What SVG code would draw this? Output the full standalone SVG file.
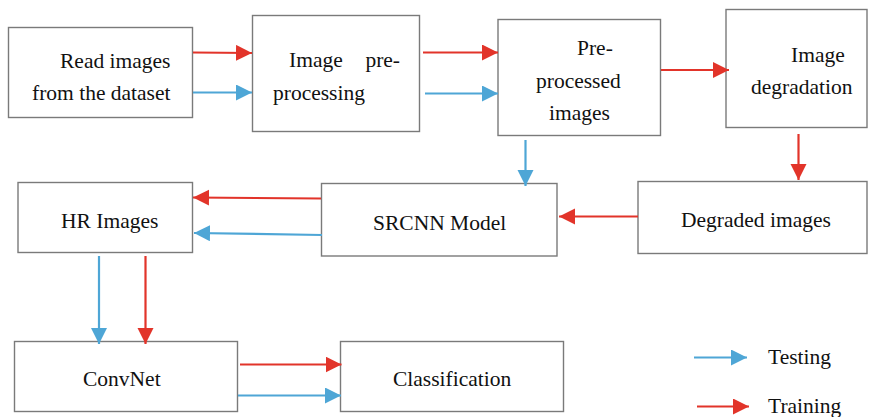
<svg xmlns="http://www.w3.org/2000/svg" width="869" height="417" viewBox="0 0 869 417">
  <style>
    .box { fill: #ffffff; stroke: #7a7a7a; stroke-width: 1.4; }
    .lbl { font-family: "Liberation Serif", "Times New Roman", serif; font-size: 21.5px; fill: #111111; }
    .red { stroke: #e2342a; stroke-width: 2.2; fill: none; marker-end: url(#headRed); }
    .blue { stroke: #4ea6d6; stroke-width: 2.2; fill: none; marker-end: url(#headBlue); }
  </style>
  <defs>
    <marker id="headRed" markerUnits="userSpaceOnUse" markerWidth="17" markerHeight="17" refX="16" refY="8" orient="auto">
      <path d="M0,0 L16,8 L0,16 z" fill="#e2342a"/>
    </marker>
    <marker id="headBlue" markerUnits="userSpaceOnUse" markerWidth="17" markerHeight="17" refX="16" refY="8" orient="auto">
      <path d="M0,0 L16,8 L0,16 z" fill="#4ea6d6"/>
    </marker>
  </defs>
  <rect width="869" height="417" fill="#ffffff"/>

  <g id="read">
    <rect class="box" x="8.5" y="27.5" width="184" height="90"/>
    <text class="lbl" x="60" y="68">Read images</text>
    <text class="lbl" x="32" y="100">from the dataset</text>
  </g>

  <g id="preprocessing">
    <rect class="box" x="252.5" y="15.5" width="167" height="116"/>
    <text class="lbl" x="289" y="67">Image</text>
    <text class="lbl" x="400" y="67" text-anchor="end">pre-</text>
    <text class="lbl" x="273" y="100">processing</text>
  </g>

  <g id="preprocessed">
    <rect class="box" x="498" y="19.5" width="162.5" height="116"/>
    <text class="lbl" x="577" y="55">Pre-</text>
    <text class="lbl" x="536" y="88">processed</text>
    <text class="lbl" x="549" y="120">images</text>
  </g>

  <g id="degradation">
    <rect class="box" x="726" y="9.5" width="141" height="118"/>
    <text class="lbl" x="791" y="62">Image</text>
    <text class="lbl" x="751" y="94">degradation</text>
  </g>

  <g id="degraded">
    <rect class="box" x="638" y="181.5" width="229" height="72"/>
    <text class="lbl" x="681" y="227">Degraded images</text>
  </g>

  <g id="srcnn">
    <rect class="box" x="321.5" y="183.5" width="235.5" height="72.5"/>
    <text class="lbl" x="373" y="230">SRCNN Model</text>
  </g>

  <g id="hr">
    <rect class="box" x="18" y="182.5" width="174.5" height="70"/>
    <text class="lbl" x="61" y="228">HR Images</text>
  </g>

  <g id="convnet">
    <rect class="box" x="14.5" y="341.5" width="223" height="70"/>
    <text class="lbl" x="83" y="386">ConvNet</text>
  </g>

  <g id="classification">
    <rect class="box" x="340.5" y="341.5" width="223" height="70"/>
    <text class="lbl" x="393" y="386">Classification</text>
  </g>

  <g id="connectors">
    <!-- read -> pre-processing -->
    <path class="red" d="M193,52.5 L252,53"/>
    <path class="blue" d="M193,92.5 L252,92.5"/>
    <!-- pre-processing -> pre-processed -->
    <path class="red" d="M423,52.5 L498,52.5"/>
    <path class="blue" d="M425,93.5 L498,93.5"/>
    <!-- pre-processed -> degradation -->
    <path class="red" d="M661,70 L729,70"/>
    <!-- degradation -> degraded images -->
    <path class="red" d="M798.5,134 L798.5,180"/>
    <!-- pre-processed -> SRCNN (testing) -->
    <path class="blue" d="M525.5,140 L525.5,186"/>
    <!-- degraded images -> SRCNN -->
    <path class="red" d="M638,216.5 L559,216.5"/>
    <!-- SRCNN -> HR images -->
    <path class="red" d="M321,198.5 L193,197.5"/>
    <path class="blue" d="M322,235 L194,233"/>
    <!-- HR images -> ConvNet -->
    <path class="blue" d="M99,256 L99,344"/>
    <path class="red" d="M145.5,256 L145.5,344"/>
    <!-- ConvNet -> classification -->
    <path class="red" d="M240,364.5 L341.5,364.5"/>
    <path class="blue" d="M238,395.5 L341,395.5"/>
  </g>

  <g id="legend">
    <path class="blue" d="M694,357.5 L747,357.5"/>
    <text class="lbl" x="768" y="364">Testing</text>
    <path class="red" d="M697,406.5 L749,406.5"/>
    <text class="lbl" x="768" y="413">Training</text>
  </g>
</svg>
